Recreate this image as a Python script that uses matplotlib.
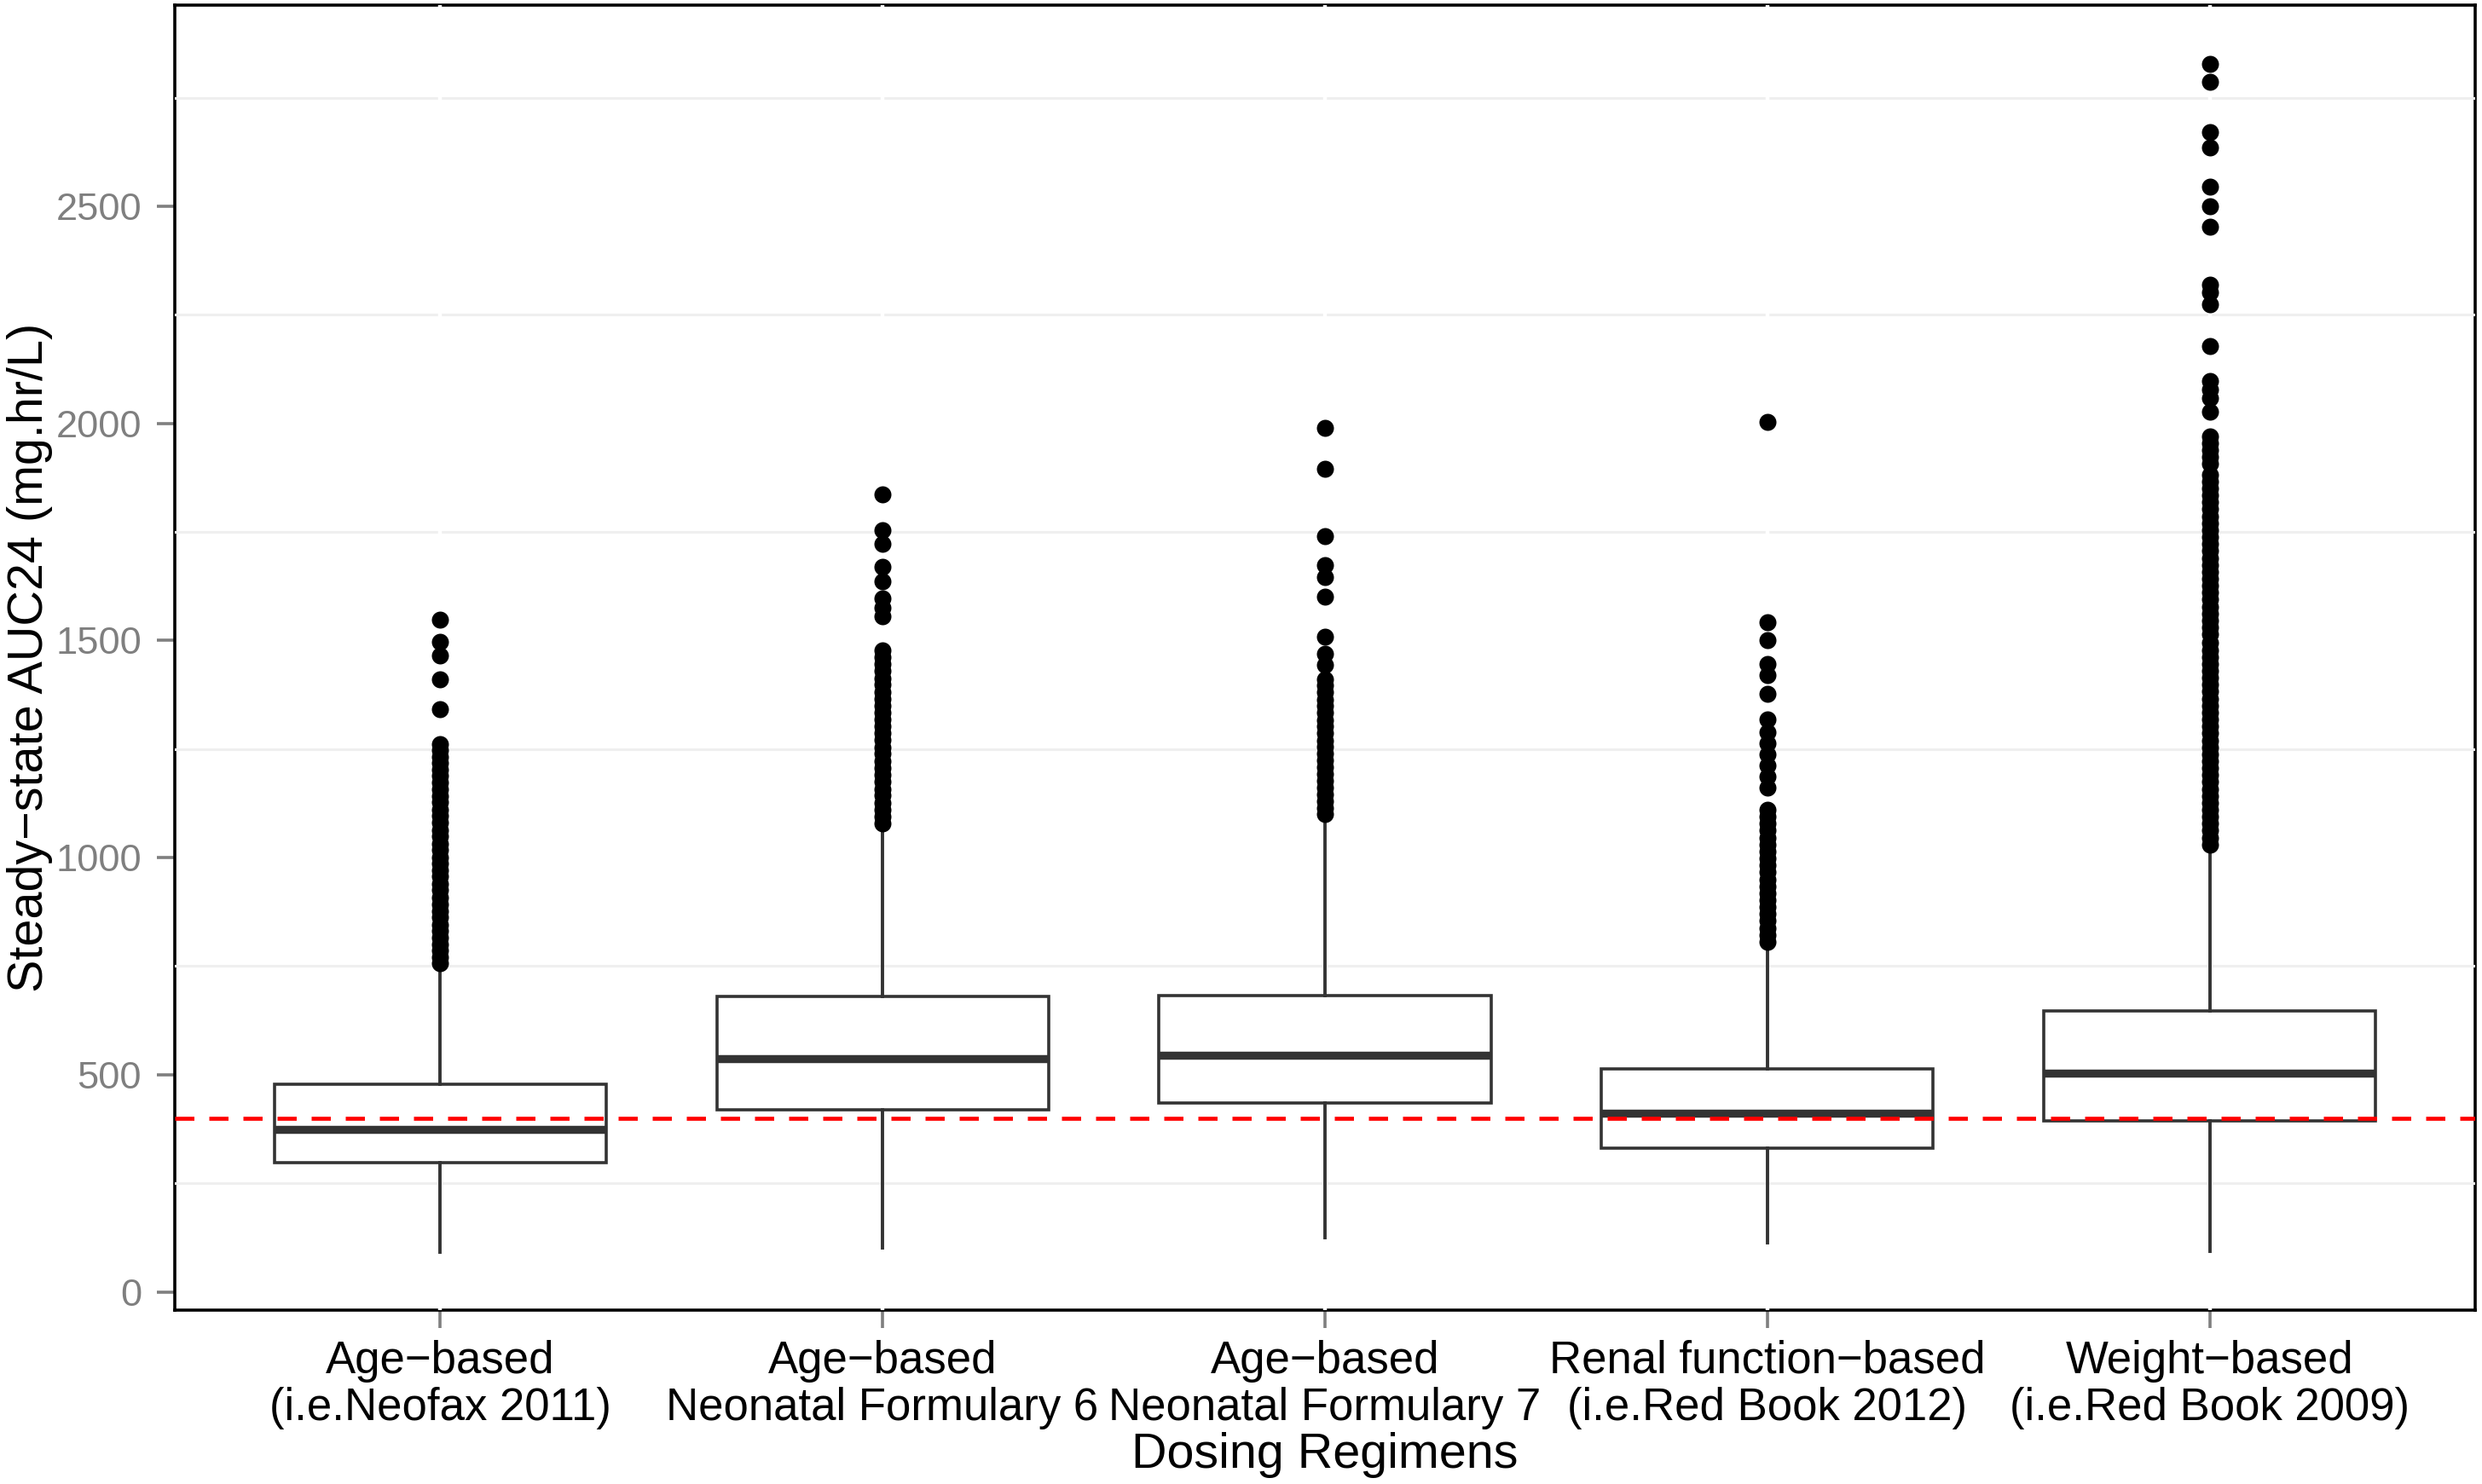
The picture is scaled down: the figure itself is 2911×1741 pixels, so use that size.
import matplotlib
matplotlib.use("Agg")
import matplotlib.pyplot as plt

plt.rcParams["font.family"] = ["Liberation Sans", "DejaVu Sans"]
plt.rcParams["lines.scale_dashes"] = False

# Dosing regimens (x categories)
regimens = [
    "Age\u2212based\n(i.e.Neofax 2011)",
    "Age\u2212based\nNeonatal Formulary 6",
    "Age\u2212based\nNeonatal Formulary 7",
    "Renal function\u2212based\n(i.e.Red Book 2012)",
    "Weight\u2212based\n(i.e.Red Book 2009)",
]

# Box statistics (mg.hr/L)
q1 = [297, 420, 435, 331, 393]
median = [374, 536, 544, 411, 503]
q3 = [479, 680, 682, 514, 646]
whisker_low = [92, 101, 124, 113, 93]
whisker_high = [750, 1065, 1088, 795, 1015]

# Outliers per regimen
fliers_neofax = [1548, 1497, 1466, 1411, 1342,
                 1261, 1248, 1232, 1219, 1203, 1188, 1172, 1158, 1141, 1127,
                 1110, 1096, 1080, 1063, 1049, 1032, 1018, 1001, 987, 970,
                 956, 939, 925, 908, 893, 877, 862, 846, 831, 815, 800, 786,
                 771, 757]
fliers_nf6 = [1837, 1754, 1722, 1669, 1637, 1596, 1575, 1555,
              1477, 1462, 1445, 1430, 1413, 1398, 1381, 1366, 1349, 1334,
              1318, 1302, 1286, 1271, 1254, 1239, 1222, 1207, 1190, 1175,
              1158, 1143, 1126, 1111, 1094, 1078]
fliers_nf7 = [1990, 1895, 1741, 1673, 1646, 1601, 1509, 1470, 1443,
              1411, 1396, 1380, 1364, 1349, 1333, 1317, 1302, 1286, 1270,
              1255, 1239, 1223, 1208, 1192, 1176, 1161, 1145, 1130, 1114,
              1100]
fliers_renal = [2004, 1542, 1501, 1446, 1420, 1378, 1318, 1288, 1263, 1237,
                1212, 1186, 1161,
                1110, 1094, 1078, 1062, 1046, 1030, 1014, 998, 982, 966, 950,
                934, 918, 902, 886, 870, 854, 838, 822, 806]
fliers_weight = [2828, 2787, 2670, 2635, 2544, 2499, 2453, 2319, 2301, 2275,
                 2178, 2098, 2078, 2059, 2027,
                 1970, 1954, 1938, 1922, 1906, 1882, 1866, 1850, 1834, 1818,
                 1802, 1786, 1770, 1754, 1738, 1722, 1706, 1690, 1674, 1658,
                 1642, 1626, 1610, 1594, 1578, 1562, 1546, 1530, 1514, 1494,
                 1478, 1462, 1446, 1430, 1414, 1398, 1382, 1366, 1350, 1334,
                 1318, 1302, 1286, 1270, 1254, 1238, 1222, 1206, 1190, 1174,
                 1158, 1142, 1126, 1110, 1094, 1078, 1062, 1046, 1030]
fliers = [fliers_neofax, fliers_nf6, fliers_nf7, fliers_renal, fliers_weight]

target_auc = 400
major_ticks = [0, 500, 1000, 1500, 2000, 2500]
minor_ticks = [250, 750, 1250, 1750, 2250, 2750]


def main():
    fig = plt.figure(figsize=(2911 / 200, 1741 / 200), dpi=200)
    ax = fig.add_axes([0.0704, 0.1172, 0.92685, 0.87907])

    stats = []
    for i in range(len(regimens)):
        stats.append({
            "med": median[i], "q1": q1[i], "q3": q3[i],
            "whislo": whisker_low[i], "whishi": whisker_high[i],
            "fliers": fliers[i],
        })

    positions = list(range(1, len(regimens) + 1))
    box_col = "#333333"
    ax.bxp(stats, positions=positions, widths=0.75, showcaps=False,
           patch_artist=True,
           boxprops=dict(facecolor="white", edgecolor=box_col, linewidth=1.3),
           medianprops=dict(color=box_col, linewidth=3.4, solid_capstyle="butt"),
           whiskerprops=dict(color=box_col, linewidth=1.4),
           flierprops=dict(marker="o", markerfacecolor="black",
                           markeredgecolor="black", markersize=7.2,
                           markeredgewidth=0),
           zorder=3)

    ax.axhline(target_auc, color="#FF0000", linewidth=1.7,
               dashes=(8.1, 6.3), zorder=5)

    # faint grid, drawn over the panel border like the original
    for y in minor_ticks:
        ax.axhline(y, color="#EFEFEF", linewidth=1.1, zorder=2.6)
    for x in positions:
        ax.axvline(x, color="white", linewidth=1.6, zorder=2.7)

    ax.set_xlim(0.4, 5.6)
    ax.set_ylim(-42, 2962)
    ax.set_yticks(major_ticks)
    ax.set_yticklabels([str(t) for t in major_ticks])
    ax.set_xticks(positions)
    ax.set_xticklabels(regimens, linespacing=1.14)

    for spine in ax.spines.values():
        spine.set_color("black")
        spine.set_linewidth(1.3)

    ax.tick_params(axis="y", colors="#7F7F7F", labelsize=16.3, length=7.5,
                   width=1.3, pad=6.5)
    ax.tick_params(axis="x", color="#7F7F7F", labelcolor="black",
                   labelsize=19, length=7.5, width=1.3, pad=5)

    ax.set_xlabel("Dosing Regimens", fontsize=20.7)
    ax.set_ylabel("Steady\u2212state AUC24 (mg.hr/L)", fontsize=20.7)
    ax.xaxis.set_label_coords(0.5, -0.0935)
    ax.yaxis.set_label_coords(-0.053, 0.5)

    fig.savefig("out.png", dpi=200, facecolor="white")


if __name__ == "__main__":
    main()
